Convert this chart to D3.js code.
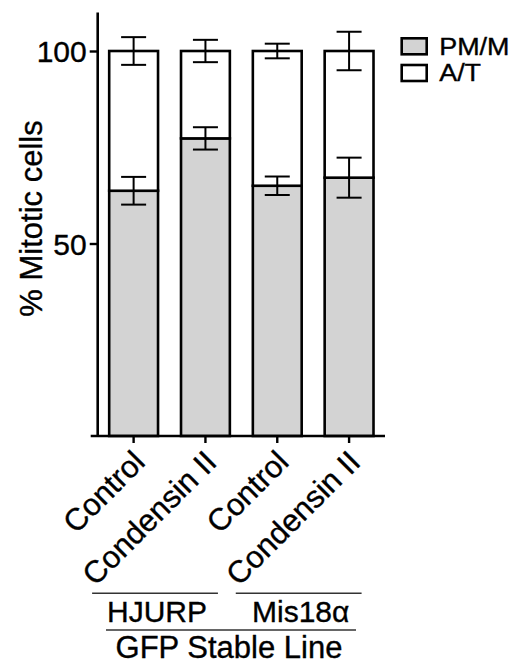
<!DOCTYPE html>
<html>
<head>
<meta charset="utf-8">
<script src="https://cdn.jsdelivr.net/npm/d3@7"></script>
<style>
  body { margin: 0; background: #fff; }
  text { font-family: "Liberation Sans", Arial, sans-serif; fill: #000; stroke: #000; stroke-width: 0.35px; }
</style>
</head>
<body>
<div id="chart"></div>
<script>
const width = 519
const height = 669

// datos
const categories = ["Control", "Condensin II", "Control", "Condensin II"]
const pmm = [63.7, 77.3, 65.0, 67.1]
const pmmErr = [3.6, 2.9, 2.4, 5.2]
const at = [36.3, 22.7, 35.0, 32.9]
const atErr = [3.6, 2.9, 1.9, 5.0]
const yTicks = [50, 100]
const groups = [
    { name: "HJURP", from: 0, to: 1 },
    { name: "Mis18α", from: 2, to: 3 },
]
const outerLabel = "GFP Stable Line"
const legendItems = ["PM/M", "A/T"]
const colors = ["#d3d3d3", "#ffffff"]

const svg = d3.select('#chart').append('svg').attr('width', width).attr('height', height)

// escalas
const x = d3.scaleBand().domain(d3.range(categories.length)).range([97.7, 385]).paddingInner(0.32).paddingOuter(0.16)
const y = d3.scaleLinear().domain([0, 110]).range([436, 12.5])

// barras apiladas
const stacked = categories.map((c, i) => ({ i, parts: [[0, pmm[i]], [pmm[i], pmm[i] + at[i]]] }))
const barGroup = svg.append('g')
stacked.forEach(d => {
    d.parts.forEach((p, k) => {
        barGroup.append('rect')
            .attr('x', x(d.i))
            .attr('width', x.bandwidth())
            .attr('y', y(p[1]))
            .attr('height', y(p[0]) - y(p[1]))
            .attr('fill', colors[k])
            .attr('stroke', '#000')
            .attr('stroke-width', 2.6)
    })
})

// barras de error
const capW = 25
const errGroup = svg.append('g').attr('stroke', '#000').attr('stroke-width', 2)
categories.forEach((c, i) => {
    const cx = x(i) + x.bandwidth() / 2
    const pairs = [[pmm[i], pmmErr[i]], [pmm[i] + at[i], atErr[i]]]
    pairs.forEach(([v, e]) => {
        errGroup.append('line').attr('x1', cx).attr('x2', cx).attr('y1', y(v - e)).attr('y2', y(v + e))
        errGroup.append('line').attr('x1', cx - capW / 2).attr('x2', cx + capW / 2).attr('y1', y(v + e)).attr('y2', y(v + e))
        errGroup.append('line').attr('x1', cx - capW / 2).attr('x2', cx + capW / 2).attr('y1', y(v - e)).attr('y2', y(v - e))
    })
})

// eje y
const yAxis = d3.axisLeft(y).tickValues(yTicks).tickSize(8).tickPadding(3)
const yAxisGroup = svg.append('g').attr('transform', 'translate(97.7,0)').call(yAxis)
yAxisGroup.select('.domain').attr('d', `M0,${y(0)}V${y(110)}`).attr('stroke-width', 2.6)
yAxisGroup.selectAll('.tick line').attr('stroke-width', 2.4)
yAxisGroup.selectAll('.tick text').attr('font-size', 30).attr('font-family', '"Liberation Sans", Arial, sans-serif').attr('dy', '0.36em')

svg.append('text')
    .attr('transform', 'translate(41.7,218.5) rotate(-90)')
    .attr('text-anchor', 'middle')
    .attr('font-size', 31)
    .text('% Mitotic cells')

// eje x
const xAxis = d3.axisBottom(x).tickSize(7).tickFormat('')
const xAxisGroup = svg.append('g').attr('transform', `translate(0,${y(0)})`).call(xAxis)
xAxisGroup.select('.domain').attr('d', 'M90.7,0H385').attr('stroke-width', 2.6)
xAxisGroup.selectAll('.tick line').attr('stroke-width', 2.4)

svg.append('g').selectAll('text').data(categories).join('text')
    .attr('transform', (d, i) => `translate(${x(i) + x.bandwidth() / 2 + 13},${y(0) + 28}) rotate(-45)`)
    .attr('text-anchor', 'end')
    .attr('font-size', 31)
    .text(d => d)

// grupos
const groupG = svg.append('g')
groups.forEach(g => {
    const x1 = x(g.from) + x.bandwidth() / 2 - 41.5
    const x2 = x(g.to) + x.bandwidth() / 2 + 12.5
    groupG.append('line').attr('x1', x1).attr('x2', x2).attr('y1', 593.3).attr('y2', 593.3)
        .attr('stroke', '#333').attr('stroke-width', 1.6)
    groupG.append('text').attr('x', (x1 + x2) / 2 + 2).attr('y', 621.5)
        .attr('text-anchor', 'middle').attr('font-size', 30).text(g.name)
})
groupG.append('line').attr('x1', 106).attr('x2', 356).attr('y1', 630).attr('y2', 630)
    .attr('stroke', '#333').attr('stroke-width', 1.6)
groupG.append('text').attr('x', 229).attr('y', 658)
    .attr('text-anchor', 'middle').attr('font-size', 31).text(outerLabel)

// leyenda
const legend = svg.append('g').attr('transform', 'translate(401.7,38.3)')
legendItems.forEach((name, k) => {
    legend.append('rect').attr('x', 0).attr('y', k * 26.7).attr('width', 25).attr('height', 16)
        .attr('fill', colors[k]).attr('stroke', '#000').attr('stroke-width', 2.6)
    legend.append('text')
        .attr('transform', `translate(37.5,${k * 26.7 + 16.3}) scale(1.17,1)`)
        .attr('font-size', 23).text(name)
})
</script>
</body>
</html>
